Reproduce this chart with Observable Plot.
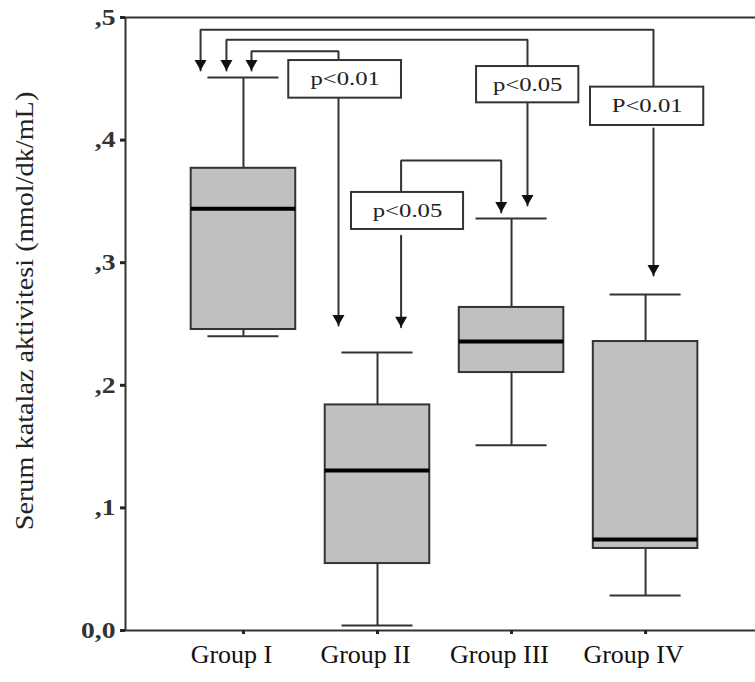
<!DOCTYPE html>
<html><head><meta charset="utf-8">
<script src="https://cdn.jsdelivr.net/npm/d3@7"></script>
<script src="https://cdn.jsdelivr.net/npm/@observablehq/plot@0.6"></script>
<style>body{margin:0;background:#fff}</style>
</head><body><div id="chart"></div>
<script>
// ---- data ----
const groups = ["Group I", "Group II", "Group III", "Group IV"];
const groupPos = [1, 2, 3, 4];
const whiskerLow = [0.240, 0.004, 0.151, 0.0285];
const q1 = [0.2455, 0.0546, 0.2104, 0.0669];
const median = [0.344, 0.1305, 0.2357, 0.0742];
const q3 = [0.377, 0.184, 0.2635, 0.2357];
const whiskerHigh = [0.451, 0.2268, 0.336, 0.274];

const yTicks = [0, 0.1, 0.2, 0.3, 0.4, 0.5];
const yTickLabels = ["0,0", ",1", ",2", ",3", ",4", ",5"];
const yTitle = "Serum katalaz aktivitesi (nmol/dk/mL)";

// significance labels (boxes in data coordinates)
const pLabels = ["p<0.01", "p<0.05", "P<0.01", "p<0.05"];
const pBoxX1 = [1.338, 2.739, 3.589, 1.806];
const pBoxX2 = [2.179, 3.502, 4.434, 2.642];
const pBoxY1 = [0.4342, 0.4304, 0.4119, 0.3271];
const pBoxY2 = [0.4649, 0.4600, 0.4432, 0.3573];

// connector polylines (data coordinates)
const connectorPaths = [
  [[0.680, 0.4568], [0.680, 0.4900], [4.059, 0.4900], [4.059, 0.4432]],
  [[4.059, 0.4095], [4.059, 0.2896]],
  [[0.873, 0.4568], [0.873, 0.4818], [3.119, 0.4818], [3.119, 0.4600]],
  [[3.119, 0.4304], [3.119, 0.3467]],
  [[1.060, 0.4568], [1.060, 0.4725], [1.709, 0.4725], [1.709, 0.4649]],
  [[1.709, 0.4342], [1.709, 0.2488]],
  [[2.923, 0.3409], [2.923, 0.3834], [2.176, 0.3834], [2.176, 0.3573]],
  [[2.176, 0.3220], [2.176, 0.2474]]
];
// arrow tips (pointing down)
const arrowX = [0.680, 0.873, 1.060, 4.059, 3.119, 1.709, 2.923, 2.176];
const arrowY = [0.4568, 0.4568, 0.4568, 0.2896, 0.3467, 0.2488, 0.3409, 0.2474];

// ---- layout constants ----
const xDomain = [0.12, 4.82];
const boxHalf = 0.39, capHalf = 0.265;
const lineColor = "#333";

const table = groups.map((g, i) => ({
  group: g, pos: groupPos[i], lo: whiskerLow[i], q1: q1[i], med: median[i], q3: q3[i], hi: whiskerHigh[i]
}));
const pData = pLabels.map((l, i) => ({label: l, x1: pBoxX1[i], x2: pBoxX2[i], y1: pBoxY1[i], y2: pBoxY2[i]}));
const lineData = connectorPaths.flatMap((p, id) => p.map(([x, y]) => ({x, y, id})));
const arrowData = arrowX.map((x, i) => ({x, y: arrowY[i]}));

const arrowDown = {
  draw(ctx) { ctx.moveTo(0, 0); ctx.lineTo(-6, -10.5); ctx.lineTo(6, -10.5); ctx.closePath(); }
};

const chart = Plot.plot({
  width: 755, height: 682,
  marginLeft: 125, marginRight: 0, marginTop: 17, marginBottom: 52,
  style: {fontFamily: "'Liberation Serif', 'Times New Roman', serif", background: "#fff", color: "#222"},
  x: {type: "linear", domain: xDomain},
  y: {domain: [0, 0.5]},
  marks: [
    Plot.ruleY([0, 0.5], {stroke: lineColor, strokeWidth: 2}),
    Plot.ruleX([xDomain[0]], {y1: 0, y2: 0.5, stroke: lineColor, strokeWidth: 2}),
    // whiskers
    Plot.ruleX(table, {x: "pos", y1: "lo", y2: "q1", stroke: lineColor, strokeWidth: 2}),
    Plot.ruleX(table, {x: "pos", y1: "q3", y2: "hi", stroke: lineColor, strokeWidth: 2}),
    Plot.ruleY(table, {y: "lo", x1: d => d.pos - capHalf, x2: d => d.pos + capHalf, stroke: lineColor, strokeWidth: 2}),
    Plot.ruleY(table, {y: "hi", x1: d => d.pos - capHalf, x2: d => d.pos + capHalf, stroke: lineColor, strokeWidth: 2}),
    // boxes
    Plot.rect(table, {x1: d => d.pos - boxHalf, x2: d => d.pos + boxHalf, y1: "q1", y2: "q3", fill: "#c0c0c0", stroke: lineColor, strokeWidth: 2}),
    Plot.ruleY(table, {y: "med", x1: d => d.pos - boxHalf, x2: d => d.pos + boxHalf, stroke: "#000", strokeWidth: 4}),
    // connectors
    Plot.line(lineData, {x: "x", y: "y", z: "id", stroke: lineColor, strokeWidth: 2, strokeLinejoin: "miter"}),
    Plot.dot(arrowData, {x: "x", y: "y", symbol: arrowDown, r: 5, fill: "#111", stroke: "none"}),
    // p-value boxes
    Plot.rect(pData, {x1: "x1", x2: "x2", y1: "y1", y2: "y2", fill: "#fff", stroke: lineColor, strokeWidth: 2}),
    Plot.text(pData, {x: d => (d.x1 + d.x2) / 2, y: d => (d.y1 + d.y2) / 2, text: "label", fontSize: 19, fill: "#222"}),
    // axes
    Plot.axisY(yTicks, {tickFormat: d => yTickLabels[yTicks.indexOf(d)], tickSize: 5, tickPadding: 5, fontSize: 23, fontWeight: "bold", fill: "#333", stroke: "#222", strokeWidth: 3, label: null}),
    Plot.axisX(groupPos, {tickSize: 4, tickFormat: () => "", stroke: "#222", strokeWidth: 3, label: null}),
    Plot.text(table, {x: "pos", text: "group", frameAnchor: "bottom", dx: -12, dy: 32, fontSize: 26, fill: "#111"}),
    Plot.text([yTitle], {frameAnchor: "left", textAnchor: "middle", rotate: -90, dx: -101, dy: -13, fontSize: 25, fill: "#222"})
  ]
});
document.getElementById("chart").append(chart);

function stretch(el, k) {
  const w = el.getComputedTextLength();
  el.setAttribute("textLength", (w * k).toFixed(1));
  el.setAttribute("lengthAdjust", "spacingAndGlyphs");
}
chart.querySelectorAll('g[aria-label="y-axis tick label"] text').forEach(t => stretch(t, 1.2));
chart.querySelectorAll("text").forEach(t => {
  if (/^[pP]</.test(t.textContent)) stretch(t, 1.3);
  if (t.textContent === yTitle) stretch(t, 1.13);
});
</script>
</body></html>
